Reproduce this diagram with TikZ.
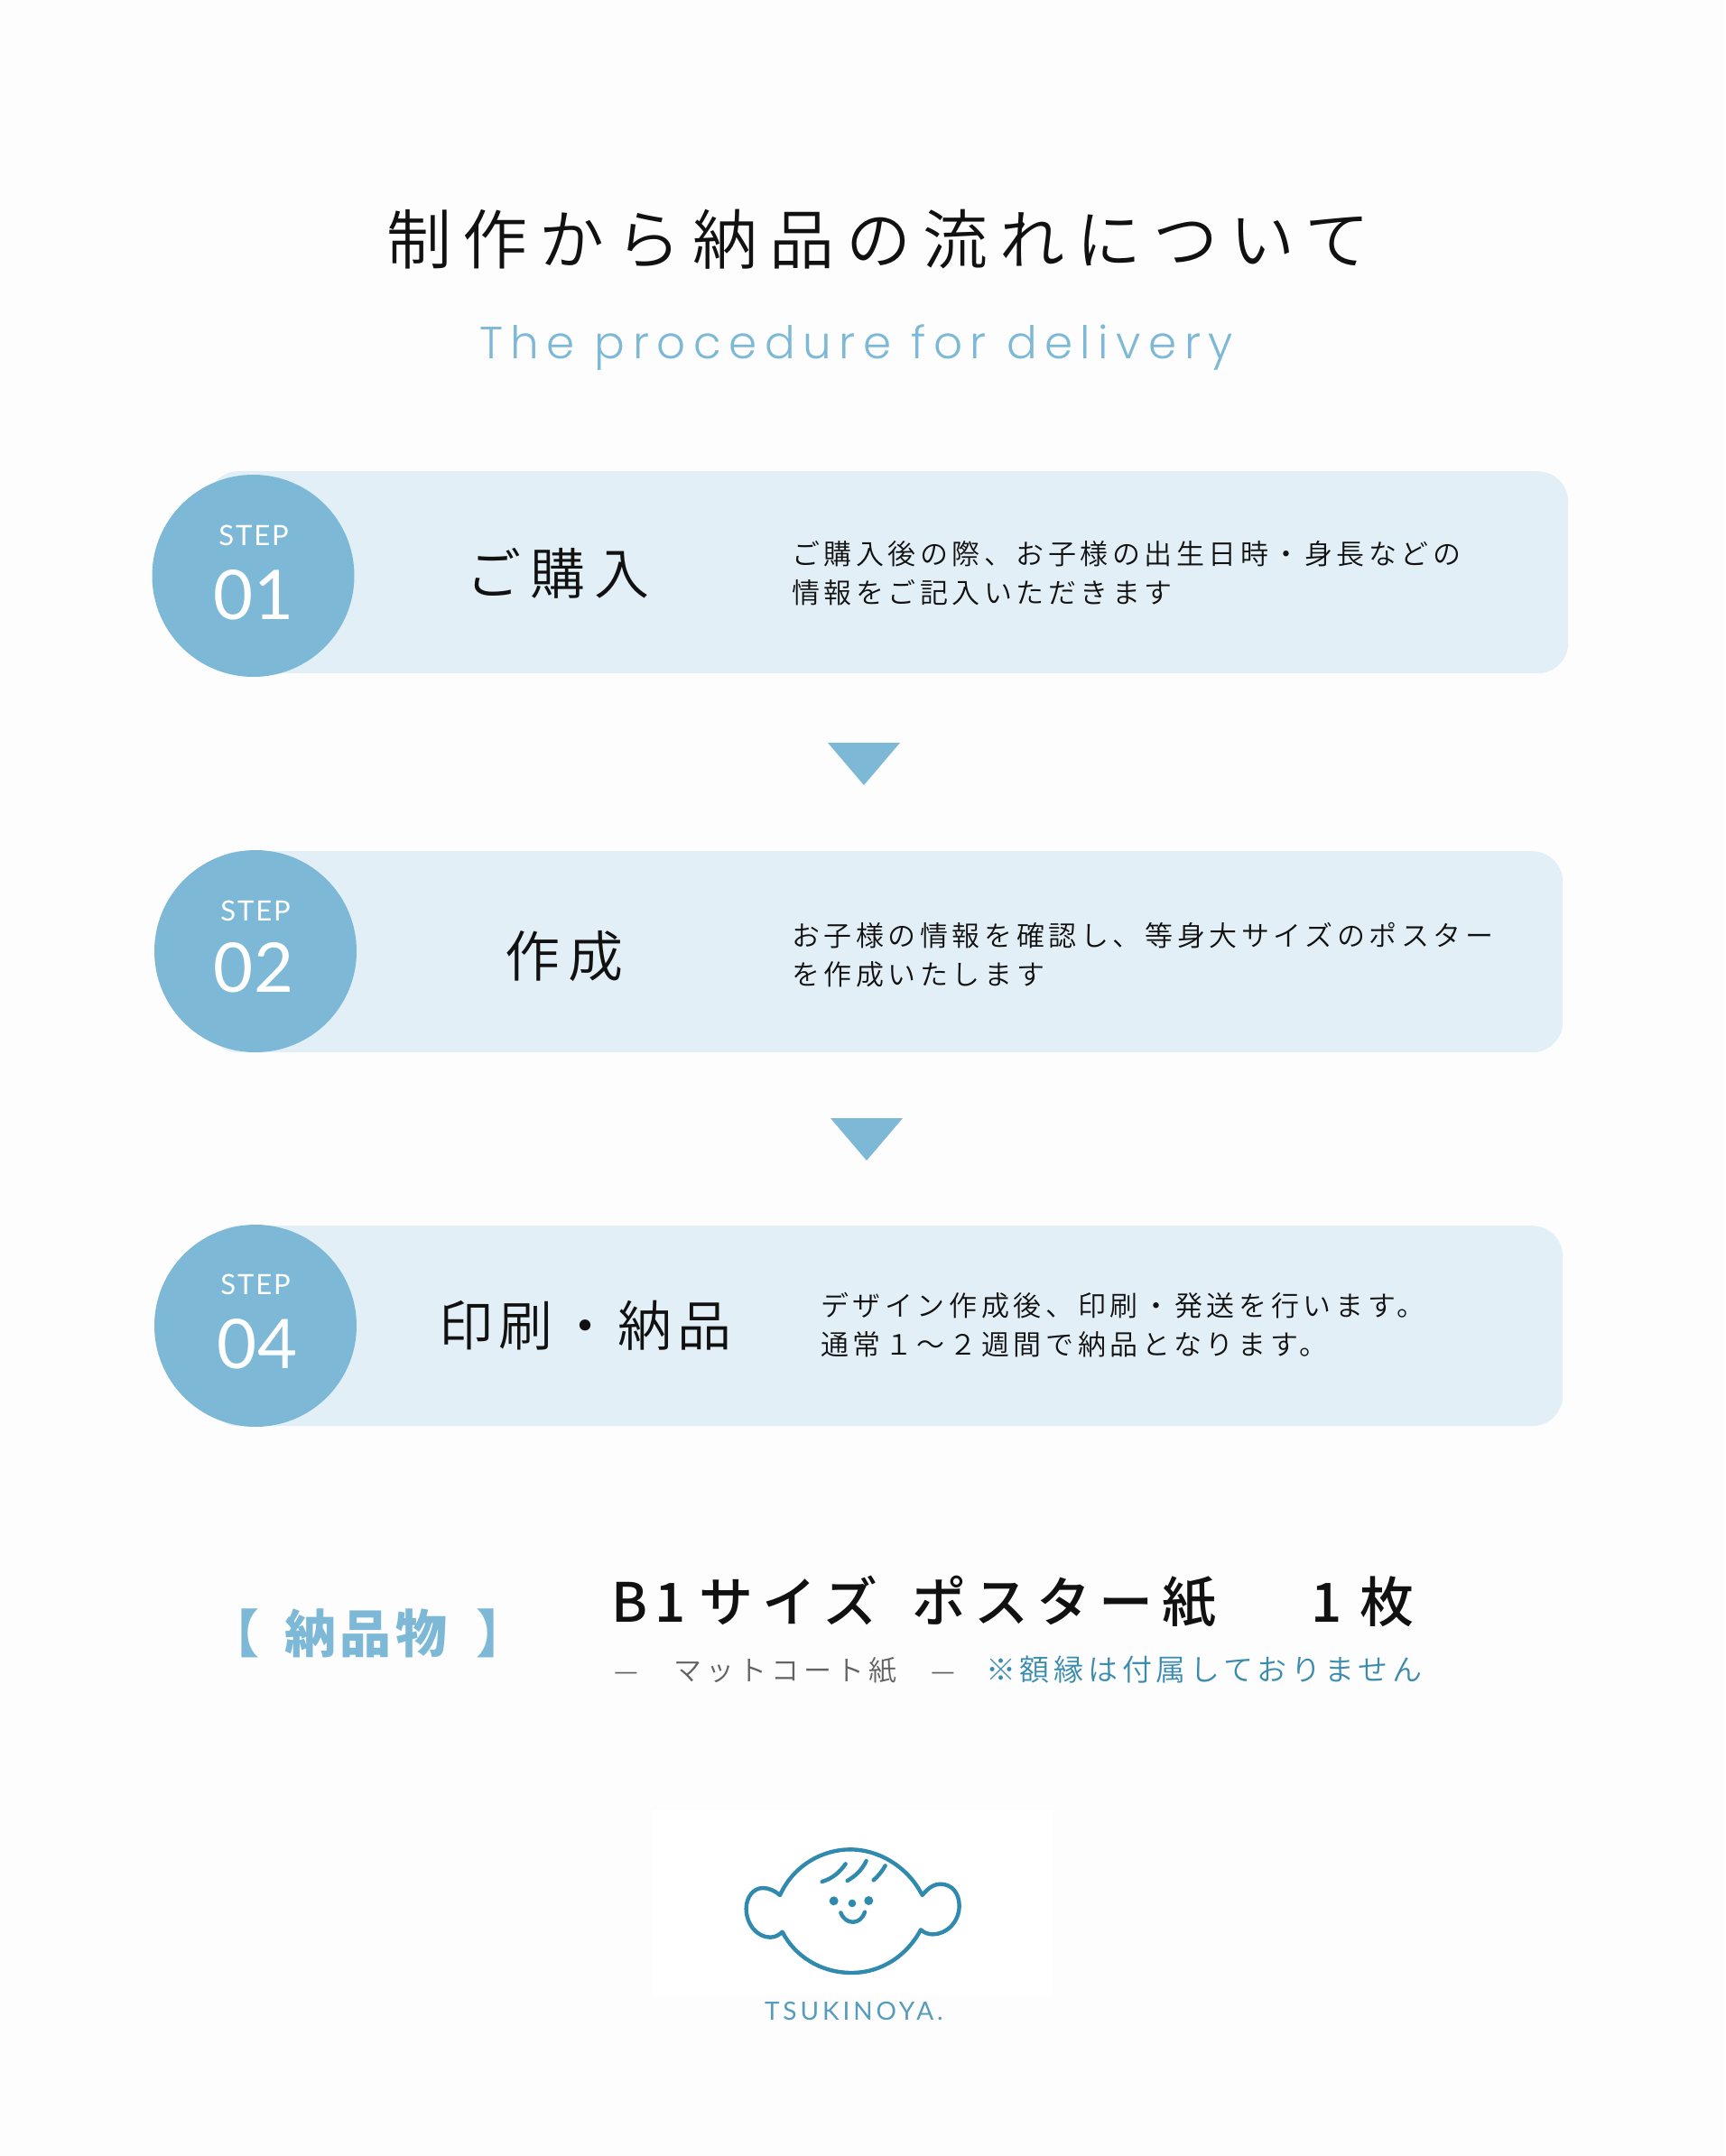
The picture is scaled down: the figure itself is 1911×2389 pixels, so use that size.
\documentclass[tikz,border=0pt]{standalone}
\usepackage{fontspec}
\newfontfamily\jp{Noto Sans CJK JP}[UprightFont=* DemiLight,BoldFont=* Bold]
\newfontfamily\jpr{Noto Sans CJK JP}
\newfontfamily\jpm{Noto Sans CJK JP}[UprightFont=* Medium,BoldFont=* Bold]
\newfontfamily\lat{Lato}
\newfontfamily\pop{Poppins Light}
\definecolor{pagebg}{HTML}{FDFDFD}
\definecolor{barc}{HTML}{E2EFF6}
\definecolor{main}{HTML}{7DB9D6}
\definecolor{teal}{HTML}{3A8BAE}
\definecolor{logo}{HTML}{2F8AAE}
\definecolor{ink}{HTML}{111111}
\newcommand{\ts}[2]{\fontsize{#1}{#1}\selectfont\addfontfeature{LetterSpace=#2}}
\tikzset{
 lab/.style={anchor=base west,inner sep=0pt,outer sep=0pt,text=ink,font=\jp},
 barbox/.style={fill=barc,rounded corners=34pt,inner sep=0pt,anchor=north west},
 stepdisc/.style={circle,fill=main,minimum size=224pt,inner sep=0pt},
 steptxt/.style={anchor=base,inner sep=0pt,text=white,font=\lat},
 logoline/.style={draw=logo,line width=4.4pt,line cap=round,line join=round},
}
\begin{document}
\begin{tikzpicture}[x=1pt,y=-1pt]
\useasboundingbox (0,0) rectangle (1911,2389);
\fill[pagebg] (0,0) rectangle (1911,2389);
\node[lab] (title) at (428,293) {\ts{72}{18}制作から納品の流れについて};
\node[lab,text=main,font=\pop] (sub) at (531,397) {\ts{50}{17}The procedure for delivery};
% bars
\node[barbox,minimum width=1507pt,minimum height=224pt] (bar1) at (230,522) {};
\node[barbox,minimum width=1501pt,minimum height=223pt] (bar2) at (230,943) {};
\node[barbox,minimum width=1501pt,minimum height=222pt] (bar3) at (230,1358) {};
\node[stepdisc] (c1) at (280.5,638) {};
\node[stepdisc] (c2) at (283,1054) {};
\node[stepdisc] (c3) at (283,1469) {};
\node[steptxt] (s1) at (281,604) {\ts{31}{6}STEP};
\node[steptxt] (n1) at (281,686) {\ts{76}{2}01};
\node[steptxt] (s2) at (283,1020) {\ts{31}{6}STEP};
\node[steptxt] (n2) at (281,1099) {\ts{76}{2}02};
\node[steptxt] (s3) at (283,1434) {\ts{31}{6}STEP};
\node[steptxt] (n3) at (285,1516) {\ts{76}{2}04};
% triangles
\fill[main] (917,823) -- (997,823) -- (957,870) -- cycle;
\fill[main] (920,1239) -- (1000,1239) -- (960,1286) -- cycle;
% step headings
\node[lab] (h1) at (516,658) {\ts{61}{17}ご購入};
\node[lab] (h2) at (559,1082) {\ts{61}{16}作成};
\node[lab] (h3) at (486,1491) {\ts{60}{10}印刷・納品};
% descriptions
\node[lab] (d1a) at (877,625) {\ts{31}{14.6}ご購入後の際、お子様の出生日時・身長などの};
\node[lab] (d1b) at (877,668) {\ts{31}{14.6}情報をご記入いただきます};
\node[lab] (d2a) at (877,1048) {\ts{31}{14.8}お子様の情報を確認し、等身大サイズのポスター};
\node[lab] (d2b) at (877,1091) {\ts{31}{14.8}を作成いたします};
\node[lab] (d3a) at (909,1458) {\ts{31}{15}デザイン作成後、印刷・発送を行います。};
\node[lab] (d3b) at (909,1501) {\ts{31}{15}通常１～２週間で納品となります。};
% delivery
\node[lab,text=main,font=\jpr\bfseries] (brl) at (230,1831) {\ts{57}{0}【};
\node[lab,text=main,font=\jpr\bfseries] (del) at (315,1831) {\ts{57}{8}納品物};
\node[lab,text=main,font=\jpr\bfseries] (brr) at (527,1831) {\ts{57}{0}】};
\node[lab,font=\jpm] (b0) at (677,1797) {\ts{60}{14}B1};
\node[lab,font=\jpm] (b1) at (774,1797) {\ts{60}{17}サイズ};
\node[lab,font=\jpm] (b3) at (1010,1797) {\ts{60}{15.5}ポスター紙};
\node[lab,font=\jpm] (b2) at (1452,1797) {\ts{60}{12}1 枚};
\node[lab,text=black!62,font=\jp] (dash1) at (680,1862) {\ts{30}{0}—};
\node[lab,text=black!62,font=\jp] (mat) at (746,1862) {\ts{31}{16.5}マットコート紙};
\node[lab,text=black!62,font=\jp] (dash2) at (1031,1862) {\ts{30}{0}—};
\node[lab,text=teal,font=\jp] (note) at (1092,1862) {\ts{33}{14.5}※額縁は付属しておりません};
% logo
\fill[white] (723,2006) rectangle (1166,2211);
\begin{scope}[shift={(700,1990)},x=0.3333pt,y=-0.3333pt]
\draw[logoline] (492,330) .. controls (540,225) and (640,178) .. (725,178)
  .. controls (825,178) and (920,240) .. (965,330)
  .. controls (985,305) and (1005,293) .. (1025,293)
  .. controls (1065,293) and (1088,325) .. (1088,365)
  .. controls (1088,420) and (1045,460) .. (1000,460)
  .. controls (985,460) and (972,455) .. (960,445)
  .. controls (915,530) and (830,588) .. (730,588)
  .. controls (625,588) and (540,530) .. (500,452)
  .. controls (490,462) and (475,470) .. (460,470)
  .. controls (415,470) and (380,425) .. (380,375)
  .. controls (380,335) and (405,306) .. (435,306)
  .. controls (455,306) and (475,315) .. (492,330) -- cycle;
\draw[logoline] (632,285) .. controls (665,275) and (690,255) .. (710,226);
\draw[logoline] (716,282) .. controls (745,265) and (765,245) .. (779,216);
\draw[logoline] (803,280) .. controls (820,265) and (832,250) .. (842,232);
\fill[logo] (671,349) circle[radius=15];
\fill[logo] (732,357) circle[radius=13];
\fill[logo] (787,348) circle[radius=15];
\draw[logoline] (694,388) .. controls (710,430) and (760,430) .. (774,386);
\end{scope}
\node[lab,text=teal!85!white,font=\lat] (brand) at (847,2238) {\ts{28}{14}TSUKINOYA.};
\end{tikzpicture}
\end{document}
